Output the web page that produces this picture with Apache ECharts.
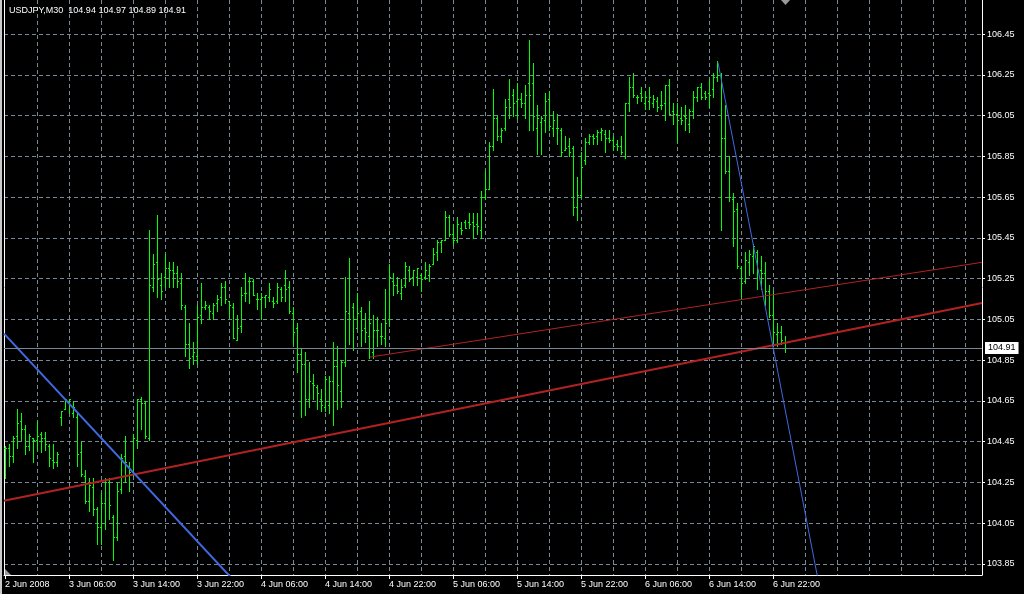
<!DOCTYPE html>
<html>
<head>
<meta charset="utf-8">
<script src="https://cdn.jsdelivr.net/npm/echarts@6/dist/echarts.min.js"></script>
<style>html,body{margin:0;padding:0;background:#000;}#c{width:1024px;height:594px;}</style>
</head>
<body>
<div id="c"></div>
<script>
// ---- data (USDJPY M30, first bar = 2 Jun 2008 22:00) ----
const open = [
104.42,104.42,104.38,104.48,104.55,104.51,104.43,104.47,104.46,104.49,
104.47,104.43,104.36,104.35,104.57,104.61,104.64,104.59,104.57,104.40,
104.28,104.16,104.23,104.12,104.03,104.15,104.25,104.08,103.98,104.22,
104.38,104.33,104.29,104.46,104.66,104.64,104.47,105.21,105.33,105.22,
105.26,105.30,105.29,105.28,105.23,105.11,104.93,104.87,104.87,105.07,
105.11,105.11,105.08,105.13,105.16,105.21,105.14,105.11,104.95,105.02,
105.18,105.24,105.24,105.15,105.15,105.16,105.16,105.14,105.14,105.20,
105.22,105.21,105.08,105.01,104.88,104.83,104.66,104.74,104.72,104.66,
104.62,104.63,104.75,104.82,104.70,104.84,105.08,105.11,105.01,105.09,
105.01,104.97,104.89,105.00,104.97,104.96,105.05,105.24,105.22,105.18,
105.22,105.29,105.26,105.26,105.27,105.26,105.27,105.32,105.38,105.43,
105.44,105.55,105.47,105.44,105.50,105.53,105.53,105.53,105.52,105.49,
105.65,105.69,105.90,106.04,105.95,105.99,106.13,106.15,106.12,106.13,
106.11,106.21,106.21,105.99,106.02,106.03,106.13,105.99,105.99,105.98,
105.88,105.90,105.89,105.60,105.66,105.83,105.92,105.95,105.95,105.97,
105.96,105.94,105.93,105.91,105.90,105.85,106.11,106.19,106.14,106.16,
106.11,106.12,106.11,106.12,106.10,106.11,106.20,106.07,106.06,106.04,
106.05,106.01,106.07,106.14,106.19,106.16,106.16,106.18,106.24,106.25,
105.94,105.78,105.64,105.59,105.30,105.24,105.33,105.36,105.38,105.29,
105.28,105.19,105.07,104.98,104.99,104.94];
const high = [
104.43,104.44,104.48,104.61,104.59,104.53,104.49,104.47,104.55,104.50,
104.50,104.44,104.44,104.40,104.60,104.66,104.66,104.65,104.59,104.45,
104.31,104.27,104.27,104.13,104.20,104.27,104.27,104.09,104.25,104.39,
104.48,104.35,104.49,104.66,104.67,104.65,105.49,105.37,105.56,105.28,
105.37,105.33,105.33,105.31,105.28,105.12,105.03,104.94,105.12,105.23,
105.14,105.12,105.13,105.17,105.23,105.24,105.14,105.13,105.07,105.21,
105.28,105.26,105.25,105.18,105.18,105.17,105.23,105.16,105.23,105.21,
105.29,105.24,105.11,105.03,104.91,104.89,104.84,104.78,104.73,104.71,
104.77,104.77,104.94,104.92,104.85,105.26,105.35,105.13,105.18,105.11,
105.08,105.14,105.07,105.06,105.03,105.20,105.32,105.28,105.26,105.25,
105.33,105.31,105.29,105.30,105.28,105.33,105.32,105.40,105.44,105.44,
105.58,105.56,105.52,105.55,105.53,105.54,105.57,105.57,105.57,105.68,
105.78,105.92,106.18,106.05,105.99,106.13,106.23,106.18,106.21,106.16,
106.20,106.42,106.31,106.10,106.05,106.16,106.17,106.07,106.06,105.99,
105.95,105.94,105.90,105.75,105.87,105.94,105.96,105.96,105.98,105.99,
105.98,105.98,105.95,105.93,105.95,106.11,106.24,106.26,106.15,106.19,
106.17,106.19,106.15,106.14,106.17,106.20,106.23,106.11,106.11,106.09,
106.10,106.08,106.17,106.19,106.21,106.17,106.23,106.26,106.32,106.26,
106.10,105.85,105.67,105.62,105.31,105.38,105.39,105.42,105.39,105.36,
105.33,105.22,105.19,105.03,105.02,104.97];
const low = [
104.27,104.33,104.35,104.42,104.46,104.39,104.41,104.35,104.41,104.40,
104.41,104.33,104.32,104.33,104.53,104.61,104.59,104.57,104.33,104.28,
104.15,104.11,104.09,103.95,103.95,104.02,104.07,103.87,103.97,104.20,
104.25,104.21,104.28,104.42,104.51,104.47,104.46,105.19,105.16,105.15,
105.21,105.21,105.21,105.21,105.10,104.87,104.81,104.83,104.83,105.03,
105.10,105.05,105.05,105.09,105.12,105.13,105.06,104.96,104.95,104.99,
105.14,105.13,105.17,105.10,105.05,105.11,105.14,105.11,105.13,105.14,
105.14,105.08,104.93,104.79,104.57,104.58,104.62,104.66,104.61,104.60,
104.60,104.59,104.53,104.61,104.62,104.82,104.93,104.90,105.01,104.92,
104.94,104.86,104.86,104.92,104.93,104.92,105.02,105.17,105.18,105.15,
105.21,105.24,105.22,105.22,105.19,105.25,105.24,105.32,105.34,105.38,
105.44,105.46,105.42,105.43,105.47,105.50,105.50,105.45,105.47,105.45,
105.64,105.69,105.88,105.93,105.92,105.98,106.04,106.05,106.04,106.09,
106.04,105.98,105.98,105.86,105.86,105.97,105.98,105.95,105.91,105.85,
105.88,105.85,105.56,105.54,105.65,105.81,105.91,105.91,105.91,105.93,
105.87,105.92,105.88,105.88,105.86,105.84,106.07,106.14,106.11,106.12,
106.08,106.08,106.09,106.07,106.08,106.03,106.06,106.01,105.92,106.01,
105.98,105.97,106.04,106.12,106.13,106.13,106.09,106.14,106.22,105.49,
105.77,105.63,105.41,105.30,105.15,105.23,105.27,105.28,105.20,105.20,
105.12,105.06,104.94,104.92,104.93,104.89];
const close = [
104.42,104.38,104.47,104.54,104.51,104.43,104.48,104.46,104.48,104.47,
104.44,104.37,104.35,104.39,104.60,104.66,104.66,104.62,104.39,104.29,
104.16,104.24,104.12,104.03,104.15,104.25,104.14,103.98,104.21,104.37,
104.35,104.30,104.47,104.66,104.64,104.48,105.22,105.32,105.25,105.19,
105.30,105.29,105.28,105.24,105.12,104.93,104.86,104.89,105.06,105.11,
105.12,105.09,105.12,105.15,105.21,105.15,105.12,104.96,105.01,105.17,
105.18,105.24,105.17,105.15,105.16,105.17,105.20,105.13,105.21,105.16,
105.20,105.09,104.99,104.88,104.83,104.66,104.75,104.73,104.69,104.63,
104.76,104.75,104.82,104.73,104.84,105.09,105.05,105.05,105.08,105.00,
104.99,105.03,105.00,105.00,104.97,105.03,105.26,105.22,105.19,105.21,
105.31,105.25,105.29,105.30,105.25,105.29,105.31,105.37,105.43,105.44,
105.55,105.47,105.44,105.52,105.49,105.50,105.52,105.51,105.51,105.65,
105.69,105.90,106.04,105.95,105.98,106.09,106.09,106.11,106.13,106.11,
106.15,106.15,106.05,106.04,106.04,106.12,106.00,106.03,105.99,105.87,
105.89,105.87,105.60,105.66,105.80,105.92,105.95,105.94,105.97,105.98,
105.94,105.93,105.90,105.90,105.87,106.11,106.19,106.15,106.14,106.14,
106.14,106.14,106.13,106.09,106.10,106.20,106.06,106.06,106.03,106.03,
106.04,106.07,106.14,106.19,106.14,106.14,106.15,106.24,106.25,105.94,
105.78,105.65,105.58,105.31,105.23,105.34,105.37,105.41,105.29,105.28,
105.19,105.07,104.99,104.99,104.95,104.91];

// time-axis labels (bar index -> label)
const timeTickIdx = [0,16,32,48,64,80,96,112,128,144,160,176,192];
const timeTickLabels = ['2 Jun 2008','3 Jun 06:00','3 Jun 14:00','3 Jun 22:00','4 Jun 06:00','4 Jun 14:00',
  '4 Jun 22:00','5 Jun 06:00','5 Jun 14:00','5 Jun 22:00','6 Jun 06:00','6 Jun 14:00','6 Jun 22:00'];
const gridIdx = [8,16,24,32,40,48,56,64,72,80,88,96,104,112,120,128,136,144,152,160,168,176,184,192,200,208,216,224,232,240];
const priceTicks = [103.85,104.05,104.25,104.45,104.65,104.85,105.05,105.25,105.45,105.65,105.85,106.05,106.25,106.45];

// trend lines: [bar index, price]
const trendBlueThick = [[-0.25,104.98],[60,103.71]];
const trendRedThick  = [[-0.25,104.16],[244.25,105.13]];
const trendRedThin   = [[91.25,104.865],[244.25,105.33]];
const trendBlueThin  = [[178.25,106.31],[210,103.09]];

const symbolName = 'USDJPY,M30';
// ---------------------------------------------------------

const FONT = '"Liberation Sans", Arial, sans-serif';
const GREEN = '#00ff00';
const GRIDC = '#778899';
const last = open.length - 1;
const bars = open.map((o, i) => [i, o, high[i], low[i], close[i]]);

function seg(x1, y1, x2, y2) {
  return { type: 'line', silent: true,
    shape: { x1, y1, x2, y2 },
    style: { stroke: GREEN, lineWidth: 1, fill: null } };
}
function renderItem(params, api) {
  const i = api.value(0);
  const pO = api.coord([i, api.value(1)]);
  const pH = api.coord([i, api.value(2)]);
  const pL = api.coord([i, api.value(3)]);
  const pC = api.coord([i, api.value(4)]);
  const x = Math.round(pH[0]) + 0.5;
  const yH = Math.round(pH[1]), yL = Math.round(pL[1]) + 1;
  const yO = Math.round(pO[1]) + 0.5, yC = Math.round(pC[1]) + 0.5;
  return { type: 'group', children: [
    seg(x, yH, x, yL),
    seg(x - 1.5, yO, x, yO),
    seg(x, yC, x + 1.5, yC)
  ]};
}

const chart = echarts.init(document.getElementById('c'), null, { renderer: 'canvas' });
const XMIN = -0.25, XMAX = 244.25, YMIN = 103.796, YMAX = 106.617;
const labelFont = { color: '#fff', fontSize: 9, fontFamily: FONT };

chart.setOption({
  animation: false,
  backgroundColor: '#000',
  title: {
    text: symbolName + '  ' + [open[last], high[last], low[last], close[last]].map(v => v.toFixed(2)).join(' '),
    left: 9, top: 6, padding: 0,
    textStyle: { color: '#fff', fontSize: 9, fontWeight: 'normal', fontFamily: FONT }
  },
  grid: { left: 4, right: 42, top: 0, bottom: 19 },
  xAxis: [
    { type: 'value', min: XMIN, max: XMAX, position: 'bottom',
      axisLine: { show: false }, axisTick: { show: false, customValues: gridIdx },
      axisLabel: { show: false },
      splitLine: { show: true, lineStyle: { color: GRIDC, type: [4, 3], width: 1 } } },
    { type: 'value', min: XMIN, max: XMAX, position: 'bottom',
      axisLine: { show: true, onZero: false, lineStyle: { color: '#fff', width: 1 } },
      axisTick: { show: true, customValues: timeTickIdx, length: 4, lineStyle: { color: '#fff' } },
      axisLabel: { show: true, customValues: timeTickIdx, margin: 5, align: 'left', ...labelFont,
        formatter: v => timeTickLabels[timeTickIdx.indexOf(Math.round(v))] || '' },
      splitLine: { show: false } }
  ],
  yAxis: [
    { type: 'value', min: YMIN, max: YMAX, position: 'right', scale: true,
      axisLine: { show: true, onZero: false, lineStyle: { color: '#fff', width: 1 } },
      axisTick: { show: true, customValues: priceTicks, length: 3, lineStyle: { color: '#fff' } },
      axisLabel: { show: true, customValues: priceTicks, margin: 5, ...labelFont, formatter: v => v.toFixed(2) },
      splitLine: { show: true, lineStyle: { color: GRIDC, type: [4, 3], width: 1 } } },
    { type: 'value', min: YMIN, max: YMAX, position: 'left', scale: true,
      axisLine: { show: true, onZero: false, lineStyle: { color: '#fff', width: 1 } },
      axisTick: { show: false }, axisLabel: { show: false }, splitLine: { show: false } }
  ],
  series: [
    { type: 'custom', name: 'bars', xAxisIndex: 0, yAxisIndex: 0,
      renderItem, data: bars, encode: { x: 0, y: [1, 2, 3, 4] }, clip: true, silent: true,
      itemStyle: { color: GREEN },
      markLine: { symbol: ['none', 'none'], silent: true, animation: false,
        data: [{ yAxis: close[last] }],
        lineStyle: { color: GRIDC, type: 'solid', width: 1 },
        label: { position: 'end', distance: 3, formatter: p => Number(p.value).toFixed(2),
          color: '#000', backgroundColor: '#fff', padding: [2, 3, 1, 3], fontSize: 9, fontFamily: FONT } } },
    { type: 'line', xAxisIndex: 0, yAxisIndex: 0, data: trendRedThick, symbol: 'none', silent: true,
      lineStyle: { color: '#b22222', width: 2 } },
    { type: 'line', xAxisIndex: 0, yAxisIndex: 0, data: trendRedThin, symbol: 'none', silent: true,
      lineStyle: { color: '#b22222', width: 1 } },
    { type: 'line', xAxisIndex: 0, yAxisIndex: 0, data: trendBlueThick, symbol: 'none', silent: true,
      lineStyle: { color: '#4169e1', width: 2 } },
    { type: 'line', xAxisIndex: 0, yAxisIndex: 0, data: trendBlueThin, symbol: 'none', silent: true,
      lineStyle: { color: '#4169e1', width: 1 } }
  ],
  graphic: [
    { type: 'rect', shape: { x: 0, y: 0, width: 2, height: 594 }, style: { fill: '#c8c8c8' } },
    { type: 'polygon', shape: { points: [[781, 0], [790, 0], [785.5, 5]] }, style: { fill: '#9a9a9a' } },
    { type: 'polygon', shape: { points: [[5, 569], [5, 575], [11, 575]] }, style: { fill: '#9a9a9a' } }
  ]
});
</script>
</body>
</html>
